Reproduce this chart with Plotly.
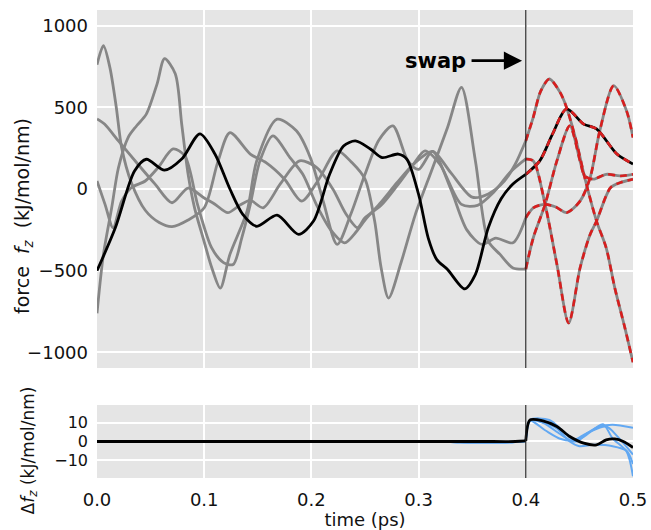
import plotly.graph_objects as go

# ---------------- force trajectories f_z(t)  (kJ/mol/nm) ----------------
# highlighted trajectory
black_t = [0, 0.017, 0.035, 0.046, 0.063, 0.079, 0.096, 0.11, 0.124, 0.136, 0.149, 0.168,
           0.188, 0.202, 0.217, 0.23, 0.241, 0.255, 0.266, 0.281, 0.289, 0.3, 0.309, 0.317,
           0.327, 0.343, 0.353, 0.365, 0.377, 0.388, 0.4]
black_f = [-500, -239, 110, 182, 115, 183, 337, 214, 0, -155, -228, -160,
           -277, -196, 90, 263, 294, 245, 192, 214, 183, -33, -300, -432,
           -492, -611, -522, -237, -60, 31, 90]
black_post_t = [0.4, 0.413, 0.425, 0.438, 0.454, 0.466, 0.485, 0.5]
black_post_f = [90, 172, 337, 490, 397, 368, 214, 153]

# other trajectories, before the swap
gray_a_t = [0, 0.006, 0.012, 0.018, 0.023, 0.032, 0.045, 0.058, 0.07, 0.085, 0.1, 0.113,
            0.124, 0.143, 0.158, 0.175, 0.191, 0.207, 0.224, 0.238, 0.25, 0.259, 0.265,
            0.272, 0.284, 0.297, 0.312, 0.327, 0.34, 0.353, 0.365, 0.376, 0.388, 0.4]
gray_a_f = [760, 877, 744, 499, 253, 40, -130, -205, -230, -190, -115, 172,
            345, 214, 160, 60, -74, 60, 233, 160, 60, -196, -480,
            -667, -442, -155, 110, 376, 622, 172, -319, -400, -483, -490]

gray_b_t = [0, 0.007, 0.02, 0.038, 0.054, 0.07, 0.085, 0.1, 0.11, 0.122, 0.133, 0.143,
            0.155, 0.171, 0.189, 0.205, 0.22, 0.232, 0.243, 0.25, 0.265, 0.28, 0.295,
            0.306, 0.32, 0.34, 0.355, 0.37, 0.385, 0.4]
gray_b_f = [429, 398, 294, 153, 31, -84, 6, -55, -93, -145, -100, -70,
            -115, 31, 172, 131, 0, -150, -237, -176, -100, 20, 150,
            233, 150, -94, -100, -20, 100, 184]

gray_c_t = [0, 0.006, 0.0137, 0.02, 0.029, 0.037, 0.046, 0.056, 0.063, 0.073, 0.079,
            0.085, 0.091, 0.099, 0.107, 0.115, 0.124, 0.14, 0.149, 0.168, 0.186, 0.199,
            0.211, 0.224, 0.237, 0.25, 0.263, 0.276, 0.29, 0.3, 0.313, 0.33, 0.345,
            0.359, 0.372, 0.388, 0.4]
gray_c_f = [-760, -400, -115, 130, 315, 387, 458, 642, 797, 705, 398,
            90, -115, -300, -480, -606, -400, -135, 172, 427, 356, 192,
            -74, -339, -150, 90, 300, 386, 172, 120, 230, 0, -250,
            -339, -300, -329, -176]

gray_d_t = [0, 0.0075, 0.015, 0.023, 0.032, 0.045, 0.057, 0.071, 0.082, 0.094, 0.107,
            0.118, 0.127, 0.135, 0.143, 0.152, 0.164, 0.18, 0.192, 0.205, 0.218, 0.231,
            0.242, 0.25, 0.265, 0.28, 0.295, 0.313, 0.33, 0.35, 0.365, 0.38, 0.39, 0.4]
gray_d_f = [49, -94, -237, -74, 8, 49, 131, 245, 202, -100, -360,
            -450, -462, -300, -94, 172, 325, 192, 90, -100, -250, -329,
            -260, -190, -80, 40, 150, 230, 100, -50, -30, 49, 150, 295]

# the same trajectories after the swap
post_a_t = [0.4, 0.407, 0.418, 0.429, 0.441, 0.4506, 0.455, 0.463, 0.475, 0.488, 0.5]
post_a_f = [-490, -298, -94, 172, 386, 172, 80, 60, 90, 80, 90]
post_b_t = [0.4, 0.407, 0.418, 0.429, 0.44, 0.4506, 0.46, 0.466, 0.479, 0.488, 0.5]
post_b_f = [184, 172, -94, -460, -820, -483, -278, -196, 8, 39, 60]
post_c_t = [0.4, 0.407, 0.418, 0.428, 0.438, 0.4506, 0.46, 0.469, 0.482, 0.494, 0.5]
post_c_f = [-176, -115, -94, -110, -145, -74, 69, 356, 632, 478, 315]
post_d_t = [0.4, 0.407, 0.414, 0.422, 0.432, 0.438, 0.447, 0.455, 0.466, 0.475, 0.483,
            0.4925, 0.5]
post_d_f = [295, 440, 600, 673, 591, 499, 294, 69, -196, -360, -605, -851, -1060]

# ---------------- force differences Δf_z(t) ----------------
dpre_t = [0, 0.1, 0.2, 0.3, 0.33, 0.36, 0.39, 0.4]
dpre_blue = [0, 0, 0, 0, -0.3, -0.6, -0.3, 0.3]
dpre_black = [0, 0, 0, 0, 0, 0, 0, 0.3]

dblack_t = [0.4, 0.404, 0.416, 0.429, 0.441, 0.454, 0.466, 0.475, 0.483, 0.491, 0.5]
dblack_f = [0.3, 11.5, 11, 8, 2.7, -0.9, -1.8, 0.9, 1.4, 0, -3.2]
dblue1_t = [0.4, 0.404, 0.422, 0.435, 0.447, 0.457, 0.469, 0.481, 0.5]
dblue1_f = [0.3, 11.5, 11.5, 5.3, 0, 4.4, 8, 9, 7.3]
dblue2_t = [0.4, 0.404, 0.416, 0.432, 0.444, 0.454, 0.472, 0.481, 0.494, 0.5]
dblue2_f = [0.3, 11.5, 10, 4, 0, 2.5, 9.2, 1.6, -5.3, -18.6]
dblue3_t = [0.4, 0.404, 0.414, 0.429, 0.441, 0.45, 0.463, 0.481, 0.494, 0.5]
dblue3_f = [0.3, 11, 10.5, 7, 0, -2.5, -1.8, -2.5, -5, -12]
dblue4_t = [0.4, 0.404, 0.418, 0.432, 0.444, 0.457, 0.475, 0.485, 0.5]
dblue4_f = [0.3, 11, 6, 1.5, 0.5, 4.5, 8, 3, -7]

x_ticks = [0.0, 0.1, 0.2, 0.3, 0.4, 0.5]
x_tick_text = ["0.0", "0.1", "0.2", "0.3", "0.4", "0.5"]
top_ticks = [-1000, -500, 0, 500, 1000]
bottom_ticks = [-10, 0, 10]
swap_time = 0.4

GRAY = "#868686"
RED = "#d81e1e"
BLUE = "#62a8f2"
FONT = "DejaVu Sans"
GAP = "\u00a0" * 2

fig = go.Figure()


def line(t, f, color, width, xa="x", ya="y", dash=None):
    fig.add_trace(go.Scatter(
        x=t, y=f, mode="lines", xaxis=xa, yaxis=ya, showlegend=False,
        hoverinfo="skip",
        line=dict(color=color, width=width, shape="spline", smoothing=0.8,
                  dash=dash)))


# upper panel
pre = [(gray_a_t, gray_a_f), (gray_b_t, gray_b_f), (gray_c_t, gray_c_f), (gray_d_t, gray_d_f)]
post = [(post_a_t, post_a_f), (post_b_t, post_b_f), (post_c_t, post_c_f), (post_d_t, post_d_f)]
for t, f in pre + post:
    line(t, f, GRAY, 2.8)
line(black_t, black_f, "black", 2.8)
line(black_post_t, black_post_f, "black", 2.8)
for t, f in post + [(black_post_t, black_post_f)]:
    line(t, f, RED, 2.6, dash="7px,5px")

# lower panel
for t, f in [(dblue1_t, dblue1_f), (dblue2_t, dblue2_f), (dblue3_t, dblue3_f), (dblue4_t, dblue4_f)]:
    line(dpre_t, dpre_blue, BLUE, 2, "x2", "y2")
    line(t, f, BLUE, 2, "x2", "y2")
line(dpre_t, dpre_black, "black", 2.8, "x2", "y2")
line(dblack_t, dblack_f, "black", 2.8, "x2", "y2")


def axis_style(size):
    return dict(showgrid=True, gridcolor="white", gridwidth=1.5, zeroline=False,
                showline=False, ticks="", automargin=False,
                tickfont=dict(family=FONT, size=size, color="#111"))


fig.update_layout(
    width=651, height=530,
    margin=dict(l=97, r=18, t=10, b=52),
    paper_bgcolor="white", plot_bgcolor="#e5e5e5",
    font=dict(family=FONT, color="#111"),
    xaxis=dict(domain=[0, 1], anchor="y", range=[0, 0.5], tickvals=x_ticks,
               showticklabels=False, **axis_style(18)),
    yaxis=dict(domain=[0.235, 1], anchor="x", range=[-1095, 1095], tickvals=top_ticks,
               ticklabelstandoff=8, **axis_style(18)),
    xaxis2=dict(domain=[0, 1], anchor="y2", range=[0, 0.5], tickvals=x_ticks,
                ticktext=x_tick_text, ticklabelstandoff=9,
                title=dict(text="time (ps)", font=dict(family=FONT, size=18), standoff=2),
                **axis_style(18)),
    yaxis2=dict(domain=[0, 0.156], anchor="x2", range=[-19.5, 19.5], tickvals=bottom_ticks,
                ticklabelstandoff=8, **axis_style(16)),
)

# y-axis titles
fig.add_annotation(x=-0.136, y=0.56, xref="paper", yref="paper", textangle=-90,
                   text="force" + GAP + "<i>f<sub>z</sub></i>" + GAP + "(kJ/mol/nm)",
                   showarrow=False, xanchor="center", yanchor="middle",
                   font=dict(family=FONT, size=19, color="#111"))
fig.add_annotation(x=-0.126, y=0.06, xref="paper", yref="paper", textangle=-90,
                   text="Δ<i>f<sub>z</sub></i> (kJ/mol/nm)", showarrow=False,
                   xanchor="center", yanchor="middle",
                   font=dict(family=FONT, size=17, color="#111"))

# swap marker in both panels
for xref, yref in [("x", "y domain"), ("x2", "y2 domain")]:
    fig.add_shape(type="line", xref=xref, yref=yref,
                  x0=swap_time, x1=swap_time, y0=0, y1=1,
                  line=dict(color="#222", width=1.2))

fig.add_annotation(x=0.316, y=785, xref="x", yref="y", text="<b>swap</b>", showarrow=False,
                   font=dict(family=FONT, size=21, color="black"))
fig.add_annotation(x=0.3965, y=785, ax=0.348, ay=785, xref="x", yref="y", axref="x", ayref="y",
                   text="", showarrow=True, arrowhead=2, arrowsize=1.3, arrowwidth=2.8,
                   arrowcolor="black")

fig.write_html("out.html")
